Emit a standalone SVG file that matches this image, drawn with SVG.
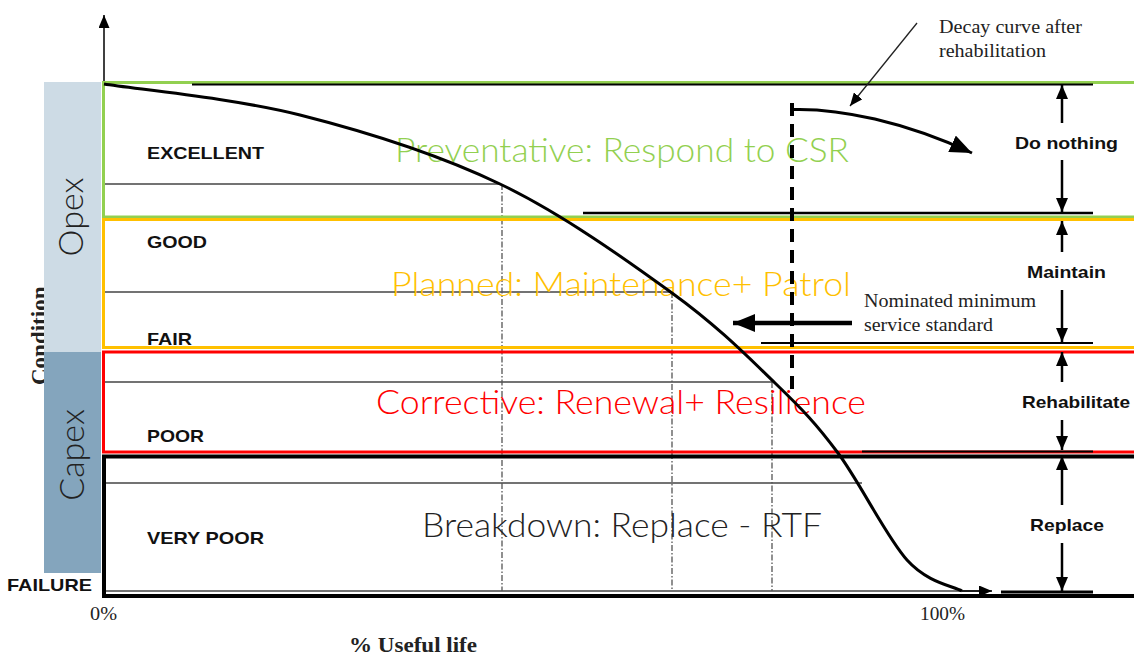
<svg xmlns="http://www.w3.org/2000/svg" width="1134" height="654" viewBox="0 0 1134 654">
<style>
.lbl{font-family:"Liberation Sans",Arial,sans-serif;font-weight:bold;font-size:17px;fill:#111}
.ser{font-family:"Liberation Serif","Times New Roman",serif;fill:#222}
.big{font-family:Lato,"Open Sans",sans-serif;font-weight:300;font-size:33px}
.side{font-family:Lato,"Open Sans",sans-serif;font-weight:300;font-size:34px;fill:#222}
.grid{stroke:#444;stroke-width:1.3;fill:none}
.dd{stroke:#555;stroke-width:1.3;stroke-dasharray:6 2 1.5 2;fill:none}
.blk{stroke:#000;fill:none}
</style>
<defs>
<marker id="dim" viewBox="0 0 10 10" refX="10" refY="5" markerUnits="userSpaceOnUse" markerWidth="14" markerHeight="12" orient="auto" preserveAspectRatio="none"><path d="M0,0 L10,5 L0,10 z" fill="#000"/></marker>
<marker id="big" viewBox="0 0 10 10" refX="10" refY="5" markerUnits="userSpaceOnUse" markerWidth="22" markerHeight="18" orient="auto" preserveAspectRatio="none"><path d="M0,0 L10,5 L0,10 z" fill="#000"/></marker>
<marker id="sm" viewBox="0 0 10 10" refX="10" refY="5" markerUnits="userSpaceOnUse" markerWidth="13" markerHeight="11" orient="auto" preserveAspectRatio="none"><path d="M0,0 L10,5 L0,10 z" fill="#000"/></marker>
</defs>
<rect width="1134" height="654" fill="#fff"/>

<!-- Condition axis title (partly hidden) -->
<text class="ser" style="font-weight:bold;font-size:23px" transform="translate(47,385) rotate(-90)" fill="#111">Condition</text>

<!-- Opex / Capex side bands -->
<g id="opex">
<rect x="44" y="82" width="57" height="270" fill="#cddbe5"/>
<text class="side" text-anchor="middle" transform="translate(83,217) rotate(-90)">Opex</text>
</g>
<g id="capex">
<rect x="44" y="352" width="57" height="221" fill="#84a5bd"/>
<text class="side" text-anchor="middle" transform="translate(84,455) rotate(-90)">Capex</text>
</g>

<!-- Y axis -->
<line x1="104" y1="82" x2="104" y2="15" stroke="#000" stroke-width="1.5" marker-end="url(#sm)"/>

<!-- grid lines -->
<g id="grid">
<line class="grid" x1="104" y1="184" x2="500" y2="184"/>
<line class="grid" x1="104" y1="292" x2="672" y2="292"/>
<line class="grid" x1="104" y1="382" x2="772" y2="382"/>
<line class="grid" x1="104" y1="483" x2="862" y2="483"/>
<line class="grid" x1="104" y1="591" x2="980" y2="591"/>
<line class="dd" x1="502" y1="184" x2="502" y2="591"/>
<line class="dd" x1="672" y1="292" x2="672" y2="591"/>
<line class="dd" x1="772" y1="382" x2="772" y2="591"/>
</g>

<!-- band outlines -->
<g id="band-preventative">
<rect x="103.5" y="82.5" width="1050" height="134.5" fill="none" stroke="#92d050" stroke-width="3"/>
<text class="big" x="395" y="162" fill="#92d050" textLength="454" lengthAdjust="spacingAndGlyphs">Preventative: Respond to CSR</text>
</g>
<g id="band-planned">
<rect x="103.5" y="219.5" width="1050" height="128" fill="none" stroke="#ffc000" stroke-width="3"/>
<text class="big" x="391" y="296" fill="#ffc000" textLength="460" lengthAdjust="spacingAndGlyphs">Planned: Maintenance+ Patrol</text>
</g>
<g id="band-corrective">
<rect x="103.5" y="352" width="1050" height="100" fill="none" stroke="#ff0000" stroke-width="3"/>
<text class="big" x="376" y="414" fill="#ff0000" textLength="490" lengthAdjust="spacingAndGlyphs">Corrective: Renewal+ Resilience</text>
</g>
<g id="band-breakdown">
<rect x="104" y="456.5" width="1050" height="139.5" fill="none" stroke="#000" stroke-width="4"/>
<text class="big" x="422" y="537" fill="#222" textLength="400" lengthAdjust="spacingAndGlyphs">Breakdown: Replace - RTF</text>
</g>

<!-- condition labels -->
<g id="labels">
<text class="lbl" x="147" y="159" textLength="117" lengthAdjust="spacingAndGlyphs">EXCELLENT</text>
<text class="lbl" x="147" y="248" textLength="60" lengthAdjust="spacingAndGlyphs">GOOD</text>
<text class="lbl" x="147" y="345" textLength="45" lengthAdjust="spacingAndGlyphs">FAIR</text>
<text class="lbl" x="147" y="442" textLength="57" lengthAdjust="spacingAndGlyphs">POOR</text>
<text class="lbl" x="147" y="544" textLength="117" lengthAdjust="spacingAndGlyphs">VERY POOR</text>
<text class="lbl" x="7" y="591" textLength="85" lengthAdjust="spacingAndGlyphs">FAILURE</text>
<text class="ser" style="font-size:18px" x="90" y="620" textLength="27" lengthAdjust="spacingAndGlyphs">0%</text>
<text class="ser" style="font-size:18px" x="920" y="620" textLength="45" lengthAdjust="spacingAndGlyphs">100%</text>
<text class="ser" style="font-size:20px;font-weight:bold" x="349" y="652" textLength="128" lengthAdjust="spacingAndGlyphs">% Useful life</text>
</g>

<!-- connectors / curves -->
<g id="connectors">
<!-- right-hand black reference lines -->
<line class="blk" x1="192" y1="84.5" x2="1093" y2="84.5" stroke-width="2" stroke="#333"/>
<line class="blk" x1="583" y1="213" x2="1093" y2="213" stroke-width="2.5"/>
<line class="blk" x1="761" y1="343" x2="1093" y2="343" stroke-width="2"/>
<line class="blk" x1="862" y1="451.5" x2="1093" y2="451.5" stroke-width="2"/>
<line class="blk" x1="1001" y1="592" x2="1093" y2="592" stroke-width="3"/>

<!-- main decay curve -->
<path class="blk" stroke-width="3" d="M104,84 C136.7,89.2 234,98.3 300,115 C366,131.7 438,154.3 500,184 C562,213.7 626.2,259.8 672,293 C717.8,326.2 747.3,356.3 775,383 C802.7,409.7 816,423.5 838,453 C860,482.5 886.3,537 907,560 C927.7,583 952.8,585.8 962,591"/>
<line x1="962" y1="591" x2="992" y2="591" stroke="#000" stroke-width="1.5" marker-end="url(#sm)"/>

<!-- rehabilitation dashed line and decay curve after rehab -->
<line x1="792" y1="103" x2="792" y2="396" stroke="#000" stroke-width="4" stroke-dasharray="13 8"/>
<path class="blk" stroke-width="3" d="M792,109.5 C840,108 905,122 972,153" marker-end="url(#big)"/>
<line x1="917" y1="23" x2="850" y2="106" stroke="#222" stroke-width="1.3" marker-end="url(#sm)"/>

<!-- nominated minimum arrow -->
<line x1="852" y1="323" x2="733" y2="323" stroke="#000" stroke-width="4.5" marker-end="url(#big)"/>

<!-- dimension arrows -->
<g stroke="#000" stroke-width="2.5">
<line x1="1062" y1="123" x2="1062" y2="85" marker-end="url(#dim)"/>
<line x1="1062" y1="160" x2="1062" y2="212" marker-end="url(#dim)"/>
<line x1="1062" y1="252" x2="1062" y2="221" marker-end="url(#dim)"/>
<line x1="1062" y1="290" x2="1062" y2="342" marker-end="url(#dim)"/>
<line x1="1062" y1="382" x2="1062" y2="352" marker-end="url(#dim)"/>
<line x1="1062" y1="420" x2="1062" y2="450" marker-end="url(#dim)"/>
<line x1="1062" y1="505" x2="1062" y2="456" marker-end="url(#dim)"/>
<line x1="1062" y1="543" x2="1062" y2="591" marker-end="url(#dim)"/>
</g>
</g>

<!-- annotations -->
<g id="annotations">
<text class="ser" style="font-size:19px" x="939" y="33" textLength="143" lengthAdjust="spacingAndGlyphs">Decay curve after</text>
<text class="ser" style="font-size:19px" x="939" y="57" textLength="107" lengthAdjust="spacingAndGlyphs">rehabilitation</text>
<text class="ser" style="font-size:19px" x="864" y="307" textLength="172" lengthAdjust="spacingAndGlyphs">Nominated minimum</text>
<text class="ser" style="font-size:19px" x="864" y="331" textLength="129" lengthAdjust="spacingAndGlyphs">service standard</text>
<text class="lbl" x="1015" y="149" textLength="103" lengthAdjust="spacingAndGlyphs">Do nothing</text>
<text class="lbl" x="1027" y="278" textLength="79" lengthAdjust="spacingAndGlyphs">Maintain</text>
<text class="lbl" x="1022" y="408" textLength="108" lengthAdjust="spacingAndGlyphs">Rehabilitate</text>
<text class="lbl" x="1030" y="531" textLength="74" lengthAdjust="spacingAndGlyphs">Replace</text>
</g>
</svg>
